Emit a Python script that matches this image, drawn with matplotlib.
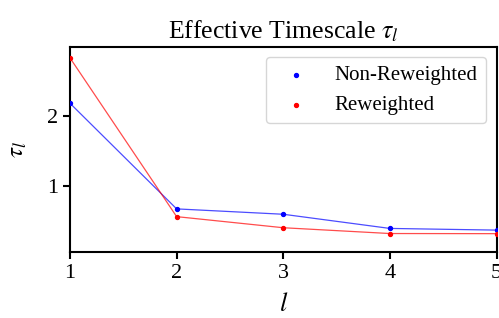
import matplotlib
matplotlib.use("Agg")
import matplotlib.pyplot as plt

plt.rcParams['font.family'] = ['Liberation Serif', 'DejaVu Serif']
plt.rcParams['mathtext.fontset'] = 'stix'

l_vals = [1, 2, 3, 4, 5]
non_reweighted = [2.18, 0.667, 0.59, 0.387, 0.363]
reweighted = [2.83, 0.556, 0.397, 0.314, 0.312]

fig = plt.figure(figsize=(4.99, 3.18), dpi=100)
ax = fig.add_axes([0.1403, 0.2066, 0.8547, 0.6464])

ax.plot(l_vals, non_reweighted, color='blue', lw=0.9, alpha=0.7)
ax.plot(l_vals, reweighted, color='red', lw=0.9, alpha=0.7)
ax.scatter(l_vals, non_reweighted, color='blue', s=8, label='Non-Reweighted', zorder=3)
ax.scatter(l_vals, reweighted, color='red', s=8, label='Reweighted', zorder=3)

ax.set_xlim(1, 5)
ax.set_ylim(0.045, 2.99)
ax.set_xticks([1, 2, 3, 4, 5])
ax.set_yticks([1, 2])
ax.tick_params(labelsize=16, width=1.5, length=5)
for s in ax.spines.values():
    s.set_linewidth(1.5)

ax.set_title(r'Effective Timescale $\tau_l$', fontsize=18.5)
ax.set_xlabel(r'$l$', fontsize=19, labelpad=7)
ax.set_ylabel(r'$\tau_l$', fontsize=18, labelpad=13)
ax.legend(loc='upper right', fontsize=15, handlelength=2.1)

fig.savefig('out.png', dpi=100)
